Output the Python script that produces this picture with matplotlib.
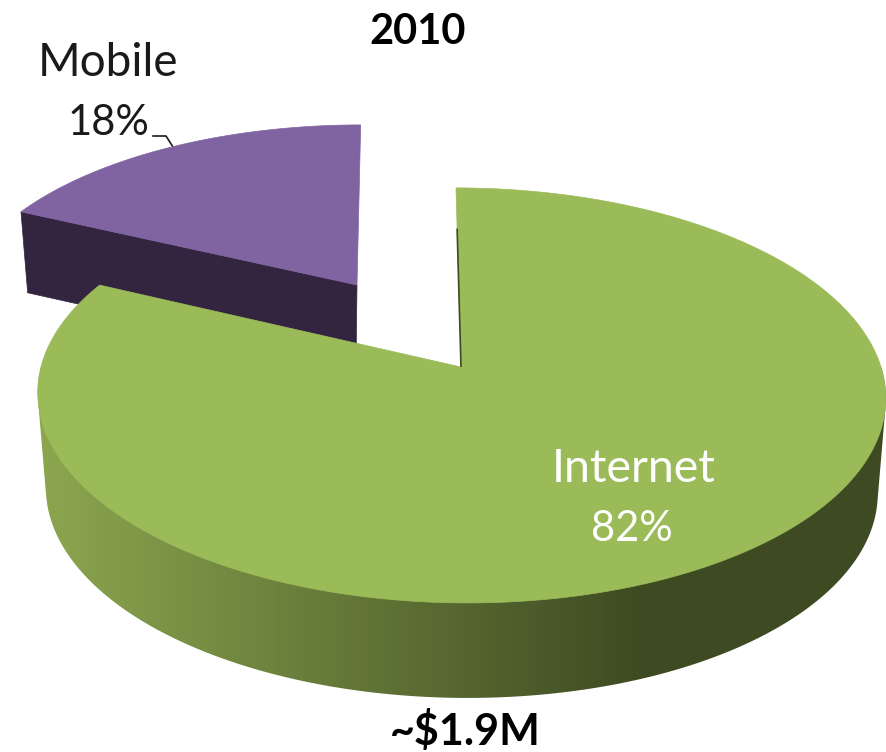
import numpy as np
import matplotlib
matplotlib.use('Agg')
import matplotlib.pyplot as plt
from matplotlib.colors import LinearSegmentedColormap
from matplotlib.patches import Polygon

# Revenue split for the year
categories = ['Internet', 'Mobile']
shares = [82, 18]
year_label = '2010'
total_label = '~$1.9M'

INTERNET_TOP = '#9bbb59'
MOBILE_TOP = '#8064a2'
MOBILE_SIDE = '#33253f'
RIM_LIGHT = '#8ca64f'
RIM_DARK = '#3e4b22'

plt.rcParams['font.family'] = ['Lato', 'DejaVu Sans']


def project(angles, radius, ox, oy, bx, by, k, skew=0.0):
    """Map polar pie coordinates (clockwise from 12 o'clock) to the page"""
    x = np.sin(angles) * radius
    v = -np.cos(angles) * radius
    d = 1 - k * v
    py = by * v / d
    return ox + bx * x / d + skew * py, oy + py


def convex_hull(points):
    """Monotone chain hull, used for the outline of the pie wall"""
    pts = sorted(map(tuple, points))

    def half(seq):
        out = []
        for p in seq:
            while len(out) > 1 and ((out[-1][0] - out[-2][0]) * (p[1] - out[-2][1])
                                    - (out[-1][1] - out[-2][1]) * (p[0] - out[-2][0])) <= 0:
                out.pop()
            out.append(p)
        return out[:-1]

    return np.array(half(pts) + half(pts[::-1]))


fig = plt.figure(figsize=(8.86, 7.52), dpi=100)
ax = fig.add_axes([0, 0, 1, 1])
ax.set_xlim(0, 886)
ax.set_ylim(752, 0)
ax.axis('off')

sweep = np.cumsum(shares) / np.sum(shares) * 2 * np.pi
internet_end = sweep[0]

# Mobile wedge, pulled out to the upper left
theta = np.linspace(internet_end, 2 * np.pi, 80)
top_x, top_y = project(theta, 1, 357, 285, 395, 182, 0.137, skew=-0.023)
low_x, low_y = project(theta, 1, 356, 366, 386, 182, 0.137, skew=-0.023)
ax.fill([356, low_x[0], top_x[0], 357], [366, low_y[0], top_y[0], 285],
        color=MOBILE_SIDE, lw=0.5, zorder=1)
ax.fill(np.r_[357, top_x], np.r_[285, top_y], color=MOBILE_TOP, lw=0.5, zorder=2)

# Internet wedge: rim is a horizontal gradient clipped to the wall outline
theta = np.linspace(0.5 * np.pi, 1.5 * np.pi, 400)
top_x, top_y = project(theta, 1, 461, 367, 420, 203.6, 0.137, skew=0.028)
low_x, low_y = project(theta, 1, 461, 462, 412, 203.6, 0.137, skew=0.028)
outline = convex_hull(np.c_[np.r_[top_x, low_x], np.r_[top_y, low_y]])
wall = Polygon(outline, closed=True, transform=ax.transData, fc='none', ec='none')
ax.add_patch(wall)
rim_cmap = LinearSegmentedColormap.from_list('rim', [RIM_LIGHT, RIM_DARK], N=256)
shade = np.clip((np.arange(886) - 40) / 600, 0, 1)
rim = ax.imshow(shade[None, :], cmap=rim_cmap, extent=[0, 886, 752, 0], aspect='auto', zorder=3)
rim.set_clip_path(wall)

theta = np.linspace(0, internet_end, 720)
top_x, top_y = project(theta, 1, 461, 367, 420, 203.6, 0.137, skew=0.028)
ax.fill(np.r_[461, top_x], np.r_[367, top_y], color=INTERNET_TOP, lw=0.5, zorder=4)

# Sliver of the cut face along the 12 o'clock edge
edge_x, edge_y = project(np.zeros(2), np.array([0.0, 0.75]), 461, 367, 420, 203.6, 0.137, skew=0.028)
ax.plot(edge_x, edge_y, color=RIM_DARK, lw=1.2, zorder=5, solid_capstyle='butt')

# Labels
ax.text(418, 44, year_label, ha='center', va='baseline', fontsize=30, fontweight='bold', color='black')
ax.text(465, 745, total_label, ha='center', va='baseline', fontsize=31, fontweight='bold', color='black')
ax.text(108, 76, categories[1], ha='center', va='baseline', fontsize=33, color='#1a1a1a')
ax.text(108, 135, f'{shares[1]}%', ha='center', va='baseline', fontsize=30, color='#1a1a1a')
ax.text(634, 482, categories[0], ha='center', va='baseline', fontsize=33.5, color='white', zorder=6)
ax.text(632, 541, f'{shares[0]}%', ha='center', va='baseline', fontsize=30, color='white', zorder=6)
ax.plot([153, 166, 173], [136, 136, 147], color='#1a1a1a', lw=1.2, zorder=1)

fig.savefig('out.png', dpi=100)
